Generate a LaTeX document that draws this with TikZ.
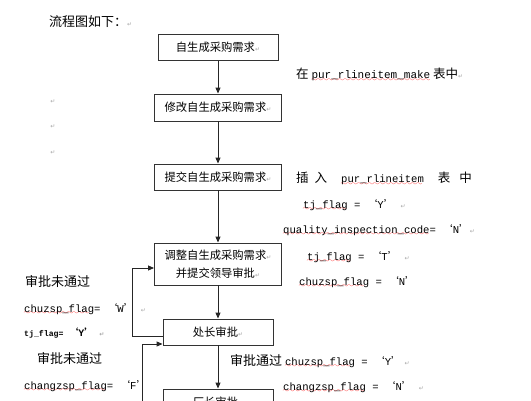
\documentclass[tikz,border=0pt]{standalone}
\usepackage{fontspec}
\usetikzlibrary{arrows.meta}
\setmainfont{Noto Sans CJK SC}
\setmonofont{Liberation Mono}
\newfontfamily\symfont{DejaVu Sans}
% paragraph mark, quotes, code text, wavy spelling underline
\newcommand\pmark{{\symfont\fontsize{6}{6}\selectfont\textcolor{black!35}{↵}}}
\newcommand\qv[1]{{\rmfamily ‘}#1{\rmfamily ’}}
\newcommand\cd[1]{{\fontsize{10.6}{12}\ttfamily #1}}
\font\wavefont=lasy7
\newsavebox\spellbox
\newcommand\spell[1]{\sbox\spellbox{#1}\rlap{\textcolor{red!85}{\hbox to \wd\spellbox{\leaders\hbox{\lower2.8pt\hbox{\wavefont\char58}}\hfill}}}\usebox\spellbox}
\begin{document}
\begin{tikzpicture}[x=1pt,y=-1pt,
  box/.style={draw=black!80,line width=0.9pt,minimum height=26pt,inner sep=0pt,
    font=\fontsize{11.3}{18}\selectfont,align=center},
  arr/.style={black!85,line width=0.9pt,-{Triangle[length=6pt,width=5pt]}},
  txt/.style={anchor=west,inner sep=0pt,font=\fontsize{13}{13}\selectfont},
  code/.style={anchor=west,inner sep=0pt,font=\fontsize{10.6}{12}\ttfamily}]
\useasboundingbox (0,0) rectangle (531,400);
\clip (0,0) rectangle (531,400);
\node[txt] (title) at (49,22) {流程图如下：\pmark};
\foreach \y/\n in {102/1,127/2,153/3}
  \node[inner sep=0pt] (pm\n) at (53,\y) {\pmark};
% flow boxes
\node[box,minimum width=120pt] (make) at (218,47.5) {自生成采购需求\pmark};
\node[box,minimum width=127pt,minimum height=27pt] (edit) at (218,107.5) {修改自生成采购需求\pmark};
\node[box,minimum width=127pt] (submit) at (218,177) {提交自生成采购需求\pmark};
\node[box,minimum width=127pt,minimum height=42pt] (adjust) at (218,264) {调整自生成采购需求\pmark\\并提交领导审批\pmark};
\node[box,minimum width=110pt] (chu) at (218,332) {处长审批\pmark};
\node[box,minimum width=110pt] (chang) at (218,402) {厂长审批\pmark};
\draw[arr] (make.south) -- (edit.north);
\draw[arr] (edit.south) -- (submit.north);
\draw[arr] (submit.south) -- (adjust.north);
\draw[arr] (adjust.south) -- (chu.north);
\draw[arr] (chu.south) -- (chang.north);
% rejection loops
\draw[arr] ([yshift=-4pt]chu.west) -- ++(-30,0) |- ([yshift=-4pt]adjust.west);
\draw[arr] (chang.west) -- ++(-20,0) |- ([yshift=-12pt]chu.west);
% notes on the right
\node[txt,font=\fontsize{12.5}{13}\selectfont] (tbl) at (296,75) {在 {\fontsize{11}{12}\ttfamily\spell{pur\_rlineitem\_make}} 表中\pmark};
\node[txt,font=\fontsize{12.5}{13}\selectfont] (ins) at (296,179) {插\hspace{6pt}入\hspace{14pt}\cd{\spell{pur\_rlineitem}}\hspace{14pt}表\hspace{9pt}中};
\node[code] (tjy) at (303,205) {\spell{tj\_flag} = \qv{Y} \pmark};
\node[code] (qic) at (283,230) {\spell{quality\_inspection\_code}= \qv{N}\pmark};
\node[code] (tjt) at (307,257) {\spell{tj\_flag} = \qv{T} \pmark};
\node[code] (czn) at (299,282) {\spell{chuzsp\_flag} = \qv{N}};
\node[txt] (pass) at (230,361) {审批通过 \cd{\spell{chuzsp\_flag} = \qv{Y}} \pmark};
\node[code] (cgn) at (283,387) {\spell{changzsp\_flag} = \qv{N} \pmark};
% notes on the left
\node[txt] (rej1) at (25,282) {审批未通过};
\node[code] (czw) at (24,309) {\spell{chuzsp\_flag}= \qv{W} \pmark};
\node[code,font=\fontsize{8.2}{10}\ttfamily\bfseries] (tjy2) at (24,333) {tj\_flag= {\fontsize{10}{10}\selectfont\qv{Y}} \pmark};
\node[txt] (rej2) at (37,359) {审批未通过};
\node[code] (cgf) at (24,386) {\spell{changzsp\_flag}= \qv{F}};
\end{tikzpicture}
\end{document}
